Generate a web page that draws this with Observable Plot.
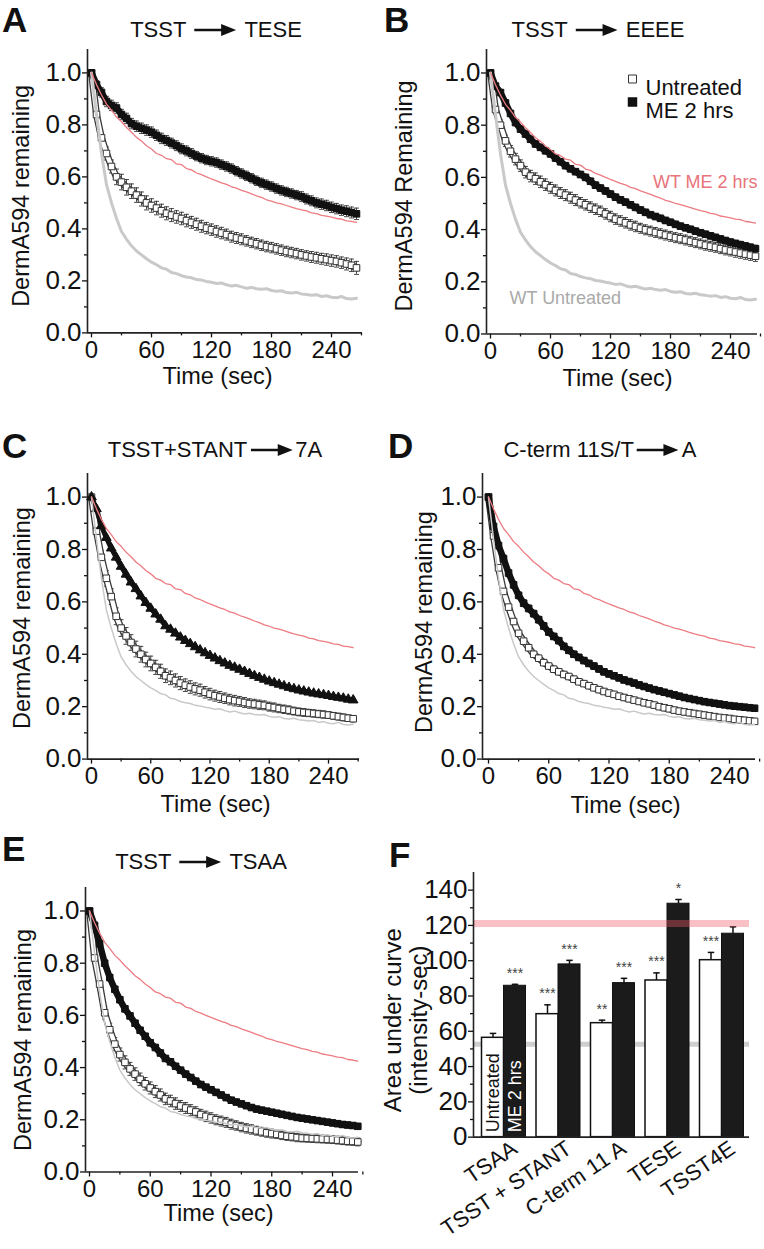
<!DOCTYPE html>
<html><head><meta charset="utf-8">
<script src="https://cdn.jsdelivr.net/npm/d3@7"></script>
<script src="https://cdn.jsdelivr.net/npm/@observablehq/plot@0.6"></script>
<style>
body{margin:0;background:#fff;}
#fig{position:relative;width:764px;height:1249px;overflow:hidden;background:#fff;font-family:"Liberation Sans",Arial,sans-serif;color:#111;}
.panel{position:absolute;}
.letter{position:absolute;font-weight:bold;font-size:35px;line-height:normal;}
.title{position:absolute;font-size:22px;line-height:normal;white-space:nowrap;display:flex;align-items:center;transform:translate(-50%,-50%);}
</style></head><body><div id="fig"></div><script>
// ---------- DATA ----------
const time = [0,5,10,15,20,25,30,35,40, 45,50,55,60,65,70,75,80,85, 90,95,100,105,110,115,120,125,130,
  135,140,145,150,155,160,165,170,175, 180,185,190,195,200,205,210,215,220, 225,230,235,240,245,250,255,260,265];

// wild type references (grey = WT untreated, pink = WT ME 2 hrs)
const wtUntreated = [1.00,0.84,0.69,0.57,0.50,0.44,0.39,0.36,0.335, 0.315,0.30,0.285,0.272,0.262,0.25,0.245,0.232,0.228,
  0.22,0.215,0.212,0.205,0.203,0.198,0.195,0.19,0.192, 0.185,0.18,0.183,0.177,0.172,0.175,0.17,0.168,0.17,
  0.163,0.16,0.162,0.155,0.153,0.156,0.15,0.148,0.145, 0.147,0.14,0.143,0.137,0.135,0.14,0.132,0.13,0.133];
const wtME = [1.00,0.955,0.915,0.88,0.857,0.83,0.812,0.79,0.772, 0.752,0.738,0.72,0.707,0.69,0.683,0.67,0.666,0.65,
  0.647,0.632,0.627,0.615,0.609,0.60,0.592,0.585,0.577, 0.571,0.562,0.557,0.548,0.542,0.535,0.527,0.521,0.512,
  0.507,0.50,0.496,0.49,0.484,0.478,0.473,0.469,0.462, 0.459,0.452,0.449,0.445,0.44,0.438,0.431,0.429,0.425];

// A: TSST -> TESE
const aUntreated = [1.00,0.84,0.75,0.69,0.64,0.60,0.58,0.56,0.545, 0.53,0.515,0.50,0.49,0.48,0.47,0.46,0.453,0.446,
  0.44,0.432,0.425,0.418,0.41,0.403,0.397,0.39,0.384, 0.378,0.37,0.365,0.36,0.354,0.348,0.343,0.337,0.332,
  0.328,0.323,0.318,0.313,0.309,0.305,0.30,0.296,0.292, 0.289,0.285,0.282,0.278,0.275,0.27,0.265,0.26,0.25];
const aUntreatedErr = [0.01,0.015,0.02,0.025,0.025,0.03,0.03,0.03,0.028, 0.028,0.027,0.027,0.026,0.026,0.025,0.025,0.025,0.024,
  0.024,0.024,0.023,0.023,0.023,0.022,0.022,0.022,0.022, 0.021,0.021,0.021,0.021,0.02,0.02,0.02,0.02,0.02,
  0.02,0.02,0.02,0.02,0.02,0.02,0.02,0.02,0.021, 0.021,0.021,0.022,0.022,0.022,0.022,0.023,0.024,0.025];
const aME = [1.00,0.955,0.925,0.89,0.875,0.865,0.84,0.825,0.805, 0.795,0.787,0.78,0.772,0.76,0.748,0.74,0.73,0.72,
  0.708,0.70,0.69,0.68,0.672,0.665,0.66,0.655,0.647, 0.64,0.632,0.622,0.613,0.604,0.595,0.585,0.577,0.57,
  0.563,0.555,0.548,0.542,0.536,0.53,0.524,0.515,0.508, 0.50,0.495,0.49,0.483,0.478,0.472,0.468,0.463,0.458];
const aMEErr = [0.012,0.015,0.018,0.02,0.02,0.02,0.02,0.02,0.02, 0.02,0.02,0.02,0.02,0.02,0.02,0.019,0.019,0.019,
  0.019,0.019,0.019,0.018,0.018,0.018,0.018,0.018,0.018, 0.018,0.018,0.018,0.018,0.018,0.018,0.018,0.018,0.018,
  0.018,0.018,0.018,0.018,0.018,0.018,0.019,0.019,0.019, 0.019,0.02,0.02,0.02,0.02,0.02,0.021,0.021,0.022];

// B: TSST -> EEEE
const bUntreated = [1.00,0.86,0.80,0.74,0.70,0.67,0.645,0.62,0.605, 0.595,0.583,0.572,0.56,0.55,0.54,0.532,0.522,0.513,
  0.503,0.495,0.486,0.478,0.47,0.46,0.45,0.44,0.433, 0.426,0.418,0.412,0.405,0.399,0.394,0.389,0.384,0.379,
  0.374,0.369,0.365,0.36,0.355,0.35,0.345,0.34,0.336, 0.332,0.327,0.322,0.318,0.314,0.31,0.306,0.302,0.298];
const bUntreatedErr = [0.01,0.015,0.02,0.022,0.022,0.022,0.022,0.022,0.022, 0.022,0.022,0.022,0.021,0.021,0.021,0.021,0.021,0.021,
  0.02,0.02,0.02,0.02,0.02,0.02,0.02,0.02,0.02, 0.02,0.02,0.02,0.019,0.019,0.019,0.019,0.019,0.019,
  0.019,0.019,0.019,0.019,0.019,0.019,0.019,0.019,0.019, 0.019,0.019,0.019,0.019,0.02,0.02,0.02,0.02,0.02];
const bME = [1.00,0.95,0.925,0.885,0.845,0.81,0.785,0.766,0.746, 0.728,0.715,0.702,0.69,0.674,0.66,0.645,0.633,0.622,
  0.611,0.60,0.585,0.57,0.559,0.548,0.536,0.524,0.514, 0.505,0.495,0.485,0.475,0.466,0.457,0.45,0.443,0.435,
  0.428,0.42,0.413,0.407,0.401,0.394,0.388,0.382,0.376, 0.37,0.364,0.358,0.352,0.347,0.342,0.337,0.332,0.327];
const bMEErr = [0.008,0.01,0.012,0.012,0.012,0.012,0.012,0.012,0.012, 0.012,0.012,0.012,0.012,0.012,0.012,0.012,0.012,0.012,
  0.012,0.012,0.012,0.012,0.012,0.012,0.012,0.012,0.012, 0.012,0.012,0.012,0.012,0.012,0.012,0.012,0.012,0.012,
  0.012,0.012,0.012,0.012,0.012,0.012,0.012,0.012,0.012, 0.012,0.012,0.012,0.012,0.012,0.013,0.013,0.013,0.013];

// C: TSST+STANT -> 7A
const cUntreated = [1.00,0.87,0.77,0.69,0.62,0.545,0.50,0.47,0.445, 0.42,0.40,0.38,0.365,0.35,0.335,0.318,0.31,0.30,
  0.29,0.282,0.275,0.268,0.263,0.255,0.248,0.242,0.237, 0.232,0.227,0.223,0.22,0.216,0.212,0.21,0.207,0.205,
  0.20,0.197,0.193,0.19,0.187,0.183,0.18,0.178,0.176, 0.174,0.172,0.17,0.168,0.165,0.162,0.159,0.156,0.154];
const cUntreatedErr = [0.01,0.02,0.025,0.03,0.03,0.032,0.032,0.032,0.03, 0.03,0.03,0.028,0.028,0.027,0.027,0.026,0.026,0.025,
  0.025,0.024,0.024,0.023,0.023,0.022,0.022,0.021,0.021, 0.02,0.02,0.02,0.019,0.019,0.018,0.018,0.018,0.017,
  0.017,0.017,0.016,0.016,0.016,0.015,0.015,0.015,0.014, 0.014,0.014,0.014,0.013,0.013,0.013,0.013,0.012,0.012];
const cME = [1.00,0.955,0.89,0.845,0.805,0.77,0.735,0.705,0.675, 0.65,0.622,0.597,0.575,0.553,0.533,0.508,0.495,0.48,
  0.465,0.452,0.44,0.428,0.416,0.405,0.395,0.385,0.375, 0.366,0.357,0.35,0.342,0.334,0.326,0.318,0.311,0.304,
  0.297,0.291,0.285,0.279,0.273,0.268,0.263,0.259,0.255, 0.251,0.248,0.245,0.242,0.238,0.235,0.232,0.228,0.225];
const cMEErr = [0.005,0.006,0.007,0.007,0.007,0.007,0.007,0.007,0.007, 0.007,0.007,0.007,0.007,0.007,0.006,0.006,0.006,0.006,
  0.006,0.006,0.006,0.006,0.006,0.006,0.006,0.006,0.006, 0.006,0.006,0.006,0.006,0.006,0.006,0.006,0.006,0.006,
  0.006,0.006,0.006,0.006,0.006,0.006,0.006,0.006,0.006, 0.006,0.006,0.006,0.006,0.006,0.006,0.006,0.006,0.006];

// D: C-term 11S/T -> A
const dUntreated = [1.00,0.852,0.73,0.64,0.58,0.525,0.48,0.45,0.425, 0.40,0.385,0.368,0.355,0.343,0.333,0.323,0.315,0.305,
  0.295,0.288,0.28,0.272,0.265,0.258,0.252,0.247,0.24, 0.235,0.23,0.225,0.22,0.215,0.211,0.206,0.20,0.196,
  0.192,0.187,0.183,0.18,0.177,0.174,0.171,0.168,0.165, 0.162,0.159,0.157,0.155,0.152,0.15,0.148,0.146,0.144];
const dUntreatedErr = [0.008,0.015,0.02,0.016,0.013,0.011,0.01,0.009,0.009, 0.008,0.008,0.008,0.008,0.008,0.008,0.008,0.008,0.008,
  0.007,0.007,0.007,0.007,0.007,0.007,0.007,0.007,0.007, 0.007,0.007,0.007,0.007,0.007,0.007,0.007,0.007,0.007,
  0.007,0.007,0.007,0.007,0.007,0.007,0.007,0.007,0.007, 0.007,0.007,0.007,0.007,0.007,0.007,0.007,0.007,0.007];
const dME = [1.00,0.888,0.815,0.765,0.71,0.665,0.625,0.595,0.575, 0.555,0.532,0.508,0.485,0.468,0.452,0.43,0.415,0.40,
  0.388,0.376,0.365,0.355,0.344,0.333,0.325,0.318,0.31, 0.302,0.296,0.29,0.283,0.277,0.271,0.265,0.26,0.255,
  0.25,0.245,0.24,0.235,0.231,0.227,0.223,0.219,0.216, 0.213,0.21,0.207,0.204,0.202,0.20,0.198,0.196,0.194];
const dMEErr = [0.008,0.012,0.014,0.014,0.014,0.014,0.013,0.013,0.013, 0.013,0.013,0.013,0.013,0.012,0.012,0.012,0.012,0.012,
  0.012,0.012,0.012,0.012,0.012,0.012,0.012,0.012,0.012, 0.011,0.011,0.011,0.011,0.011,0.011,0.011,0.011,0.011,
  0.011,0.011,0.011,0.011,0.011,0.011,0.011,0.011,0.011, 0.011,0.011,0.011,0.011,0.011,0.011,0.011,0.011,0.011];

// E: TSST -> TSAA
const eUntreated = [1.00,0.82,0.72,0.61,0.545,0.49,0.45,0.42,0.395, 0.375,0.355,0.338,0.322,0.308,0.295,0.28,0.272,0.262,
  0.253,0.245,0.237,0.23,0.22,0.213,0.207,0.20,0.195, 0.19,0.183,0.178,0.172,0.167,0.163,0.158,0.154,0.15,
  0.147,0.144,0.14,0.137,0.135,0.132,0.13,0.129,0.128, 0.127,0.126,0.125,0.124,0.122,0.12,0.118,0.117,0.115];
const eUntreatedErr = [0.01,0.02,0.025,0.025,0.025,0.025,0.025,0.025,0.025, 0.024,0.024,0.024,0.023,0.023,0.023,0.022,0.022,0.022,
  0.021,0.021,0.021,0.02,0.02,0.02,0.02,0.019,0.019, 0.019,0.019,0.018,0.018,0.018,0.018,0.017,0.017,0.017,
  0.017,0.016,0.016,0.016,0.016,0.016,0.015,0.015,0.015, 0.015,0.015,0.015,0.015,0.015,0.015,0.015,0.015,0.015];
const eME = [1.00,0.945,0.875,0.80,0.745,0.70,0.66,0.625,0.598, 0.57,0.543,0.52,0.495,0.477,0.456,0.435,0.422,0.405,
  0.39,0.375,0.362,0.348,0.335,0.325,0.315,0.305,0.295, 0.285,0.275,0.268,0.261,0.254,0.247,0.241,0.237,0.233,
  0.229,0.225,0.221,0.217,0.213,0.209,0.206,0.203,0.20, 0.197,0.194,0.191,0.188,0.185,0.182,0.18,0.178,0.175];
const eMEErr = [0.006,0.01,0.012,0.012,0.012,0.012,0.011,0.011,0.011, 0.011,0.011,0.011,0.011,0.01,0.01,0.01,0.01,0.01,
  0.01,0.01,0.01,0.01,0.01,0.01,0.01,0.01,0.01, 0.01,0.01,0.01,0.01,0.01,0.01,0.01,0.01,0.01,
  0.01,0.01,0.01,0.01,0.01,0.01,0.01,0.01,0.01, 0.01,0.01,0.01,0.01,0.01,0.01,0.01,0.01,0.01];

// axis ticks
const yMajor = [0, 0.2, 0.4, 0.6, 0.8, 1.0];
const yMinor = [0.1, 0.3, 0.5, 0.7, 0.9];
const xMajor = [0, 60, 120, 180, 240];
const xMinor = [30, 90, 150, 210, 270];

// labels on panel B
const wtAnnotations = [
  {text: "WT ME 2 hrs", t: 267, v: 0.582, color: "#e8737b"},
  {text: "WT Untreated", t: 19, v: 0.138, color: "#a9a9a9"}
];
const legendLabels = ["Untreated", "ME 2 hrs"];

// F: area under curve
const aucGroups = ["TSAA", "TSST + STANT", "C-term 11 A", "TESE", "TSST4E"];
const aucUntreated = [56.3, 69.7, 64.6, 88.8, 100.3];
const aucUntreatedErr = [2.5, 5.3, 1.7, 4.3, 4.4];
const aucME = [85.8, 97.9, 87.3, 132.3, 115.3];
const aucMEErr = [0.8, 2.3, 2.7, 2.4, 3.9];
const starsUntreated = ["", "***", "**", "***", "***"];
const starsME = ["***", "***", "***", "*", ""];
const wtAucUntreated = 52.7;
const wtAucME = 121.1;
const aucTicks = [0, 20, 40, 60, 80, 100, 120, 140];
const aucMinor = [10, 30, 50, 70, 90, 110, 130];

// ---------- DRAWING ----------
const FONT = '"Liberation Sans", Arial, sans-serif';
const fig = document.getElementById("fig");
const yMax = 1.09;
const cap = {draw(ctx, size) { const w = Math.sqrt(size) * 0.7; ctx.moveTo(-w, 0); ctx.lineTo(w, 0); }};

function place(el, left, top) {
  const d = document.createElement("div");
  d.className = "panel"; d.style.left = left + "px"; d.style.top = top + "px";
  d.appendChild(el); fig.appendChild(d);
}

function series(rows, style) {
  const ec = "#333";
  const marks = [
    Plot.ruleX(rows, {x: "t", y1: d => d.v - d.e, y2: d => d.v + d.e, stroke: ec, strokeWidth: 0.9}),
    Plot.dot(rows, {x: "t", y: d => d.v + d.e, symbol: cap, r: 2, stroke: ec, fill: "none", strokeWidth: 0.9}),
    Plot.dot(rows, {x: "t", y: d => d.v - d.e, symbol: cap, r: 2, stroke: ec, fill: "none", strokeWidth: 0.9})
  ];
  if (style.open) {
    marks.push(
      Plot.line(rows, {x: "t", y: "v", stroke: "#3a3a3a", strokeWidth: 7}),
      Plot.line(rows, {x: "t", y: "v", stroke: "#fff", strokeWidth: 4.4})
    );
  } else {
    marks.push(Plot.line(rows, {x: "t", y: "v", stroke: "#111", strokeWidth: style.band}));
  }
  marks.push(Plot.dot(rows, {x: "t", y: "v", symbol: style.symbol, r: style.r, fill: style.fill, stroke: style.stroke, strokeWidth: 1}));
  return marks;
}

function timePanel(p) {
  const g = p.geo;
  const k = g.frameBottom - g.px1;
  const frameTop = g.frameBottom - yMax * k;
  const xs = (g.t240 - g.t0) / 240;
  const xDomain = [(g.frameLeft - g.t0) / xs, (g.frameRight - g.t0) / xs];
  const svgTop = frameTop - 8;
  const width = 382;
  const marginBottom = 66;
  const height = g.frameBottom - svgTop + marginBottom;
  const rows = (vals, errs) => time.map((t, i) => ({t, v: vals[i], e: errs ? errs[i] : 0})).filter(d => d.v != null);
  const wtU = rows(wtUntreated), wtM = rows(wtME);
  const mu = rows(p.unt, p.untErr), mm = rows(p.me, p.meErr);
  const marks = [
    Plot.axisY({ticks: yMajor, tickFormat: d3.format(".1f"), tickSize: 5, tickPadding: 1, fontSize: 26, strokeWidth: 1.3, label: null}),
    Plot.axisY({ticks: yMinor, tickFormat: () => "", tickSize: 3, strokeWidth: 1.3, label: null}),
    Plot.axisX({ticks: xMajor, tickFormat: d3.format("d"), tickSize: 5, tickPadding: 3, fontSize: 24, strokeWidth: 1.3, label: null}),
    Plot.axisX({ticks: xMinor, tickFormat: () => "", tickSize: 3, strokeWidth: 1.3, label: null}),
    Plot.ruleY([0], {stroke: "#222", strokeWidth: 1.6}),
    Plot.ruleX([xDomain[0]], {stroke: "#222", strokeWidth: 1.6}),
    Plot.text([p.yLabel], {text: d => d, frameAnchor: "left", rotate: -90, textAnchor: "middle", fontSize: 23.5,
      dx: p.yl[0] - g.frameLeft, dy: p.yl[1] - (frameTop + g.frameBottom) / 2}),
    Plot.text(["Time (sec)"], {text: d => d, frameAnchor: "bottom", textAnchor: "middle", fontSize: 23.5,
      dx: p.xl[0] - (g.frameLeft + g.frameRight) / 2, dy: p.xl[1] - g.frameBottom}),
    ...series(mu, {open: true, symbol: "square", r: 3.7, fill: "white", stroke: "#333"}),
    ...series(mm, p.triangle ? {symbol: "triangle", r: 3.6, fill: "#111", stroke: "#111", band: 5} : {symbol: "square", r: 3.7, fill: "#111", stroke: "#111", band: 6.5}),
    Plot.line(wtU, {x: "t", y: "v", stroke: "#c9c9c9", strokeWidth: p.greyWidth}),
    Plot.line(wtM, {x: "t", y: "v", stroke: "#ec7b82", strokeWidth: 1.3})
  ];
  if (p.legend) {
    marks.push(
      Plot.dot([0], {frameAnchor: "top-left", dx: 146, dy: 78 - frameTop, symbol: "square", r: 4.5, fill: "white", stroke: "#333", strokeWidth: 1}),
      Plot.dot([0], {frameAnchor: "top-left", dx: 146, dy: 101 - frameTop, symbol: "square", r: 4.5, fill: "#111", stroke: "#111"}),
      Plot.text([legendLabels[0]], {text: d => d, frameAnchor: "top-left", textAnchor: "start", fontSize: 22, dx: 159, dy: 78 - frameTop}),
      Plot.text([legendLabels[1]], {text: d => d, frameAnchor: "top-left", textAnchor: "start", fontSize: 22, dx: 159, dy: 101 - frameTop}),
      Plot.text(wtAnnotations.slice(0, 1), {x: "t", y: "v", text: "text", textAnchor: "end", fill: "color", fontSize: 18}),
      Plot.text(wtAnnotations.slice(1), {x: "t", y: "v", text: "text", textAnchor: "start", fill: "color", fontSize: 18})
    );
  }
  const svg = Plot.plot({
    width, height, marginLeft: g.frameLeft - p.svgLeft, marginRight: p.svgLeft + width - g.frameRight,
    marginTop: 8, marginBottom,
    x: {domain: xDomain}, y: {domain: [0, yMax]},
    style: {fontFamily: FONT, color: "#111", background: "transparent", overflow: "visible"},
    marks
  });
  place(svg, p.svgLeft, svgTop);
}

const timePanels = [
  {geo: {frameLeft: 87, frameRight: 362, frameBottom: 332, px1: 72, t0: 91, t240: 331}, svgLeft: 0,
   unt: aUntreated, untErr: aUntreatedErr, me: aME, meErr: aMEErr, yLabel: "DermA594 remaining",
   yl: [21, 195], xl: [217, 383], greyWidth: 3},
  {geo: {frameLeft: 486, frameRight: 757, frameBottom: 333, px1: 72, t0: 490, t240: 730}, svgLeft: 382,
   unt: bUntreated, untErr: bUntreatedErr, me: bME, meErr: bMEErr, yLabel: "DermA594 Remaining",
   yl: [404, 195], xl: [617, 385], greyWidth: 3, legend: true},
  {geo: {frameLeft: 87, frameRight: 359, frameBottom: 759, px1: 497, t0: 91, t240: 328}, svgLeft: 0,
   unt: cUntreated, untErr: cUntreatedErr, me: cME, meErr: cMEErr, yLabel: "DermA594 remaining",
   yl: [22, 618], xl: [215, 812], greyWidth: 1.5, triangle: true},
  {geo: {frameLeft: 482, frameRight: 755, frameBottom: 759, px1: 497, t0: 488, t240: 729}, svgLeft: 382,
   unt: dUntreated, untErr: dUntreatedErr, me: dME, meErr: dMEErr, yLabel: "DermA594 remaining",
   yl: [424, 622], xl: [625, 813], greyWidth: 1.5},
  {geo: {frameLeft: 85, frameRight: 358, frameBottom: 1171, px1: 910, t0: 89, t240: 332}, svgLeft: 0,
   unt: eUntreated, untErr: eUntreatedErr, me: eME, meErr: eMEErr, yLabel: "DermA594 remaining",
   yl: [23, 1039], xl: [218, 1220], greyWidth: 1.5}
];
timePanels.forEach(timePanel);

// ---- Panel F ----
(function () {
  const g = {frameLeft: 473, frameRight: 749, frameBottom: 1137, px140: 890, c0: 503.5, step: 54.5};
  const k = (g.frameBottom - g.px140) / 140;
  const top = g.frameBottom - 150 * k;
  const svgLeft = 382, svgTop = top - 8, width = 382, height = 1249 - svgTop;
  const xDomain = [(g.frameLeft - g.c0) / g.step, (g.frameRight - g.c0) / g.step];
  const bw = 22 / g.step;
  const rows = aucGroups.map((name, i) => ({i, name, u: aucUntreated[i], ue: aucUntreatedErr[i], m: aucME[i], me: aucMEErr[i],
    su: starsUntreated[i], sm: starsME[i]}));
  const inside = [{i: 0, text: "Untreated", off: -bw / 2, fill: "#111"}, {i: 0, text: "ME 2 hrs", off: bw / 2, fill: "#fff"}];
  const ec = "#111";
  const svg = Plot.plot({
    width, height, marginLeft: g.frameLeft - svgLeft, marginRight: svgLeft + width - g.frameRight,
    marginTop: 8, marginBottom: height - 8 - (g.frameBottom - top),
    x: {domain: xDomain, axis: null}, y: {domain: [0, 150]},
    style: {fontFamily: FONT, color: "#111", background: "transparent", overflow: "visible"},
    marks: [
      Plot.ruleY([wtAucUntreated], {stroke: "#cfcfcf", strokeWidth: 5}),
      Plot.rectY(rows, {x1: d => d.i - bw, x2: d => d.i, y: "u", fill: "white", stroke: ec, strokeWidth: 1.5}),
      Plot.rectY(rows, {x1: d => d.i, x2: d => d.i + bw, y: "m", fill: "#1b1b1b", stroke: ec, strokeWidth: 1}),
      Plot.ruleX(rows, {x: d => d.i - bw / 2, y1: "u", y2: d => d.u + d.ue, stroke: ec, strokeWidth: 1.5}),
      Plot.dot(rows, {x: d => d.i - bw / 2, y: d => d.u + d.ue, symbol: cap, r: 2.6, stroke: ec, fill: "none", strokeWidth: 1.5}),
      Plot.ruleX(rows, {x: d => d.i + bw / 2, y1: "m", y2: d => d.m + d.me, stroke: ec, strokeWidth: 1.5}),
      Plot.dot(rows, {x: d => d.i + bw / 2, y: d => d.m + d.me, symbol: cap, r: 2.6, stroke: ec, fill: "none", strokeWidth: 1.5}),
      Plot.ruleY([wtAucME], {stroke: "#ee5a6a", strokeOpacity: 0.38, strokeWidth: 7}),
      Plot.text(rows, {x: d => d.i - bw / 2, y: d => d.u + d.ue, text: "su", fontSize: 14, fill: "#444", dy: -11}),
      Plot.text(rows, {x: d => d.i + bw / 2, y: d => d.m + d.me, text: "sm", fontSize: 14, fill: "#444", dy: -11}),
      Plot.text(inside, {x: d => d.i + d.off, y: 0, text: "text", fill: "fill", rotate: -90, textAnchor: "start", fontSize: 18, dy: -5}),
      Plot.ruleY([0], {stroke: "#222", strokeWidth: 1.6}),
      Plot.ruleX([xDomain[0]], {stroke: "#222", strokeWidth: 1.6}),
      Plot.axisY({ticks: aucTicks, tickSize: 5, tickPadding: 1, fontSize: 26, strokeWidth: 1.3, label: null}),
      Plot.axisY({ticks: aucMinor, tickFormat: () => "", tickSize: 3, strokeWidth: 1.3, label: null}),
      Plot.text(rows, {x: "i", text: "name", frameAnchor: "bottom", rotate: -34, textAnchor: "end", lineAnchor: "top", fontSize: 22, dx: 6, dy: 2}),
      Plot.text(["Area under curve\n(intensity-sec)"], {text: d => d, frameAnchor: "left", rotate: -90, textAnchor: "middle", fontSize: 24, lineHeight: 1.08,
        dx: 405 - g.frameLeft, dy: 1020 - (top + g.frameBottom) / 2})
    ]
  });
  place(svg, svgLeft, svgTop);
})();

// ---- letters and titles ----
const letters = [["A", 2, 0], ["B", 384, 0], ["C", 2, 426], ["D", 388, 426], ["E", 2, 829], ["F", 389, 835]];
letters.forEach(([t, x, y]) => {
  const d = document.createElement("div"); d.className = "letter"; d.textContent = t;
  d.style.left = x + "px"; d.style.top = y + "px"; fig.appendChild(d);
});
const titles = [
  {l: "TSST", r: "TESE", cx: 216, cy: 30, gap: 8},
  {l: "TSST", r: "EEEE", cx: 598, cy: 30, gap: 8},
  {l: "TSST+STANT", r: "7A", cx: 215, cy: 450, gap: 3},
  {l: "C-term 11S/T", r: "A", cx: 600, cy: 450, gap: 3},
  {l: "TSST", r: "TSAA", cx: 201, cy: 862, gap: 8}
];
titles.forEach(t => {
  const d = document.createElement("div"); d.className = "title";
  d.style.left = t.cx + "px"; d.style.top = t.cy + "px";
  const a = document.createElement("span"); a.textContent = t.l;
  const b = document.createElement("span"); b.textContent = t.r;
  const arrow = document.createElementNS("http://www.w3.org/2000/svg", "svg");
  arrow.setAttribute("width", 42); arrow.setAttribute("height", 14);
  arrow.style.margin = `0 ${t.gap}px`;
  arrow.innerHTML = '<line x1="0" y1="7" x2="30" y2="7" stroke="#111" stroke-width="2.4"/><polygon points="27,1 42,7 27,13" fill="#111"/>';
  d.appendChild(a); d.appendChild(arrow); d.appendChild(b); fig.appendChild(d);
});
</script></body></html>
